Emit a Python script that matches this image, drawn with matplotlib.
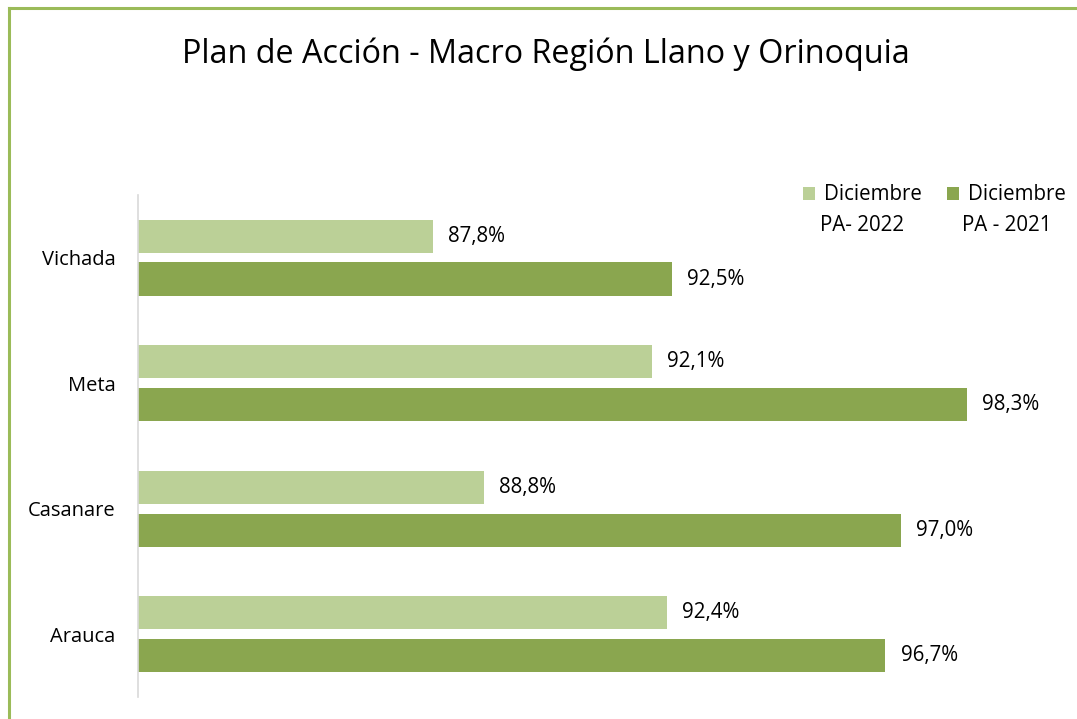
import matplotlib.pyplot as plt
import numpy as np
from matplotlib.lines import Line2D

# data (bottom to top)
regions = ["Arauca", "Casanare", "Meta", "Vichada"]
pa_2022 = [92.4, 88.8, 92.1, 87.8]
pa_2021 = [96.7, 97.0, 98.3, 92.5]
series_top = ["Diciembre", "Diciembre"]
series_bottom = ["PA- 2022", "PA - 2021"]

LIGHT = "#BBD097"
DARK = "#8AA64F"
FONT = ["Open Sans", "DejaVu Sans"]

plt.rcParams["font.family"] = FONT

fig = plt.figure(figsize=(10.77, 7.19), dpi=100)
ax = fig.add_axes([0.128, 0.0306, 0.85, 0.6984])

y = np.arange(len(regions))
h = 0.265
off = 0.171
b1 = ax.barh(y + off, pa_2022, height=h, color=LIGHT, label=series_top[0])
b2 = ax.barh(y - off, pa_2021, height=h, color=DARK, label=series_top[1])


def fmt(vals):
    return [f"{v:.1f}%".replace(".", ",") for v in vals]


ax.bar_label(b1, labels=fmt(pa_2022), padding=11, fontsize=14.8)
ax.bar_label(b2, labels=fmt(pa_2021), padding=11, fontsize=14.8)

ax.set_xlim(82, 100)
ax.set_ylim(-0.5, 3.5)
ax.set_yticks(y)
ax.set_yticklabels(regions, fontsize=14.5)
ax.tick_params(axis="y", length=0, pad=16)
ax.set_xticks([])
for s in ["top", "right", "bottom"]:
    ax.spines[s].set_visible(False)
ax.spines["left"].set_color("#D9D9D9")
ax.spines["left"].set_linewidth(1.2)

leg = ax.legend(ncol=2, loc="upper right", bbox_to_anchor=(1.023, 1.037),
                frameon=False, fontsize=14.8, handlelength=0.6, handleheight=0.6,
                handletextpad=0.45, columnspacing=1.2, borderaxespad=0)

fig.text(0.507, 0.925, "Plan de Acción - Macro Región Llano y Orinoquia",
         ha="center", va="center", fontsize=23.3)

# second line of each legend entry, centred under square + text
fig.canvas.draw()
r = fig.canvas.get_renderer()
inv = fig.transFigure.inverted()
for handle, txt, extra in zip(leg.legend_handles, leg.get_texts(), series_bottom):
    hb = handle.get_window_extent(r)
    tb = txt.get_window_extent(r)
    cx = (hb.x0 + tb.x1) / 2
    fx, fy = inv.transform((cx, tb.y0 - 10))
    fig.text(fx, fy, extra, ha="center", va="top", fontsize=14.8)

# chart frame (left and top edges visible)
fig.add_artist(Line2D([0.0082, 0.0082], [0.0, 0.9895], color="#9BBB59", lw=2.2))
fig.add_artist(Line2D([0.0082, 1.0], [0.9895, 0.9895], color="#9BBB59", lw=2.2))

fig.savefig("out.png", dpi=100, facecolor="white")
